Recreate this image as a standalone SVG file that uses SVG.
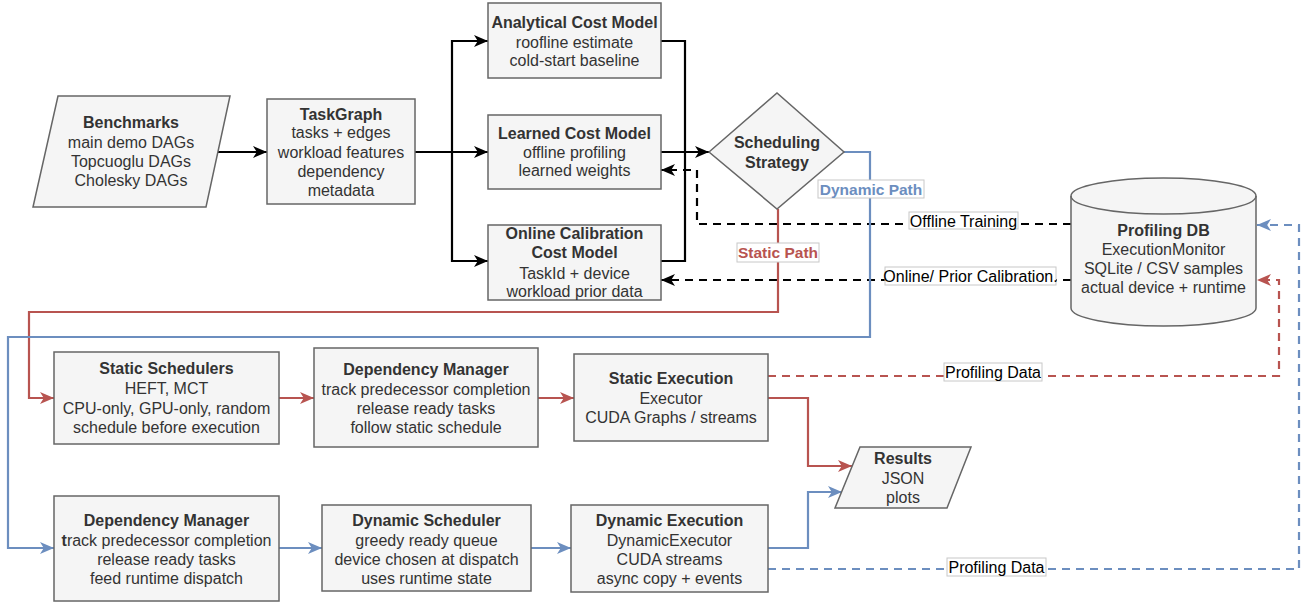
<svg xmlns="http://www.w3.org/2000/svg" width="1309" height="603" viewBox="0 0 1309 603">
<style>
.node{fill:#f5f5f5;stroke:#666;stroke-width:1.5}
.t{font-family:"Liberation Sans",Arial,sans-serif;fill:#333;text-anchor:middle}
.b{font-weight:bold}
.s16{font-size:16px}
.e{fill:none;stroke-width:2.2}
.k{stroke:#000}
.r{stroke:#b85450}
.bl{stroke:#6c8ebf}
.d{stroke-dasharray:8 6}
.lb{fill:#fff;stroke:#c8c8c8;stroke-width:1}
.lt{font-family:"Liberation Sans",Arial,sans-serif;font-size:16px;fill:#000;text-anchor:middle}
</style>
<defs>
<marker id="ak" markerUnits="userSpaceOnUse" markerWidth="15" markerHeight="13" refX="14" refY="6" orient="auto"><path d="M0,0 L14,6 L0,12 L3.8,6 Z" fill="#000"/></marker>
<marker id="ar" markerUnits="userSpaceOnUse" markerWidth="15" markerHeight="13" refX="14" refY="6" orient="auto"><path d="M0,0 L14,6 L0,12 L3.8,6 Z" fill="#b85450"/></marker>
<marker id="ab" markerUnits="userSpaceOnUse" markerWidth="15" markerHeight="13" refX="14" refY="6" orient="auto"><path d="M0,0 L14,6 L0,12 L3.8,6 Z" fill="#6c8ebf"/></marker>
</defs>

<g id="connectors">
  <path class="e k" d="M218,152 H267" marker-end="url(#ak)"/>
  <path class="e k" d="M415,152 H488" marker-end="url(#ak)"/>
  <path class="e k" d="M452,152 V41 H488" marker-end="url(#ak)"/>
  <path class="e k" d="M452,152 V261 H488" marker-end="url(#ak)"/>
  <path class="e k" d="M661,41 H685 V261 H661"/>
  <path class="e k" d="M661,152 H709" marker-end="url(#ak)"/>
  <path class="e k d" d="M1071,224 H697 V170 H661" marker-end="url(#ak)"/>
  <path class="e k d" d="M1071,280 H661" marker-end="url(#ak)"/>
  <path class="e r" d="M778,209 V312 H29 V398 H54" marker-end="url(#ar)"/>
  <path class="e bl" d="M844,152 H870 V337 H8 V548 H54" marker-end="url(#ab)"/>
  <path class="e r" d="M279,398 H314" marker-end="url(#ar)"/>
  <path class="e r" d="M538,398 H574" marker-end="url(#ar)"/>
  <path class="e r" d="M768,398 H808 V466 H852" marker-end="url(#ar)"/>
  <path class="e bl" d="M279,548 H322" marker-end="url(#ab)"/>
  <path class="e bl" d="M531,548 H571" marker-end="url(#ab)"/>
  <path class="e bl" d="M768,548 H808 V492 H842" marker-end="url(#ab)"/>
  <path class="e r d" d="M768,376 H1279 V280 H1257" marker-end="url(#ar)"/>
  <path class="e bl d" d="M768,569 H1299 V225 H1257" marker-end="url(#ab)"/>
  <rect class="lb" x="818" y="180" width="106" height="18"/>
  <text class="t b" x="871" y="194.5" style="font-size:15.5px;fill:#6c8ebf">Dynamic Path</text>
  <rect class="lb" x="737" y="243" width="82" height="19"/>
  <text class="t b" x="778" y="258" style="font-size:15.5px;fill:#b85450">Static Path</text>
  <rect class="lb" x="909" y="212" width="109" height="17"/>
  <text class="lt" x="963.5" y="226.5">Offline Training</text>
  <rect class="lb" x="885" y="267" width="171" height="18"/>
  <text class="lt" x="970.5" y="282">Online/ Prior Calibration.</text>
  <rect class="lb" x="944" y="363" width="98" height="18"/>
  <text class="lt" x="993" y="378">Profiling Data</text>
  <rect class="lb" x="947" y="558" width="99" height="18"/>
  <text class="lt" x="996.5" y="573">Profiling Data</text>
</g>

<g id="benchmarks">
  <polygon class="node" points="58,96 230,96 206,207 33,207"/>
  <text class="t s16" x="131"><tspan class="b" x="131" y="128">Benchmarks</tspan><tspan x="131" y="148">main demo DAGs</tspan><tspan x="131" y="167">Topcuoglu DAGs</tspan><tspan x="131" y="186">Cholesky DAGs</tspan></text>
</g>
<g id="taskgraph">
  <rect class="node" x="267" y="99" width="148" height="105"/>
  <text class="t s16"><tspan class="b" x="341" y="120">TaskGraph</tspan><tspan x="341" y="138">tasks + edges</tspan><tspan x="341" y="157.5">workload features</tspan><tspan x="341" y="177">dependency</tspan><tspan x="341" y="196">metadata</tspan></text>
</g>
<g id="analytical">
  <rect class="node" x="488" y="3" width="173" height="75"/>
  <text class="t s16"><tspan class="b" x="574.5" y="27.5">Analytical Cost Model</tspan><tspan x="574.5" y="47.5">roofline estimate</tspan><tspan x="574.5" y="66">cold-start baseline</tspan></text>
</g>
<g id="learned">
  <rect class="node" x="488" y="115" width="173" height="74"/>
  <text class="t s16"><tspan class="b" x="574.5" y="138.5">Learned Cost Model</tspan><tspan x="574.5" y="157.5">offline profiling</tspan><tspan x="574.5" y="176">learned weights</tspan></text>
</g>
<g id="online">
  <rect class="node" x="488" y="225" width="173" height="75"/>
  <text class="t s16"><tspan class="b" x="574.5" y="239">Online Calibration</tspan><tspan class="b" x="574.5" y="258">Cost Model</tspan><tspan x="574.5" y="278.5">TaskId + device</tspan><tspan x="574.5" y="297">workload prior data</tspan></text>
</g>
<g id="strategy">
  <polygon class="node" points="709,152 777,93 844,152 777,209"/>
  <text class="t b s16"><tspan x="777" y="147.5">Scheduling</tspan><tspan x="777" y="167.5">Strategy</tspan></text>
</g>
<g id="profilingdb">
  <path class="node" d="M1071,196 A92.5,18 0 0 1 1256,196 V308 A92.5,18 0 0 1 1071,308 Z"/>
  <path d="M1071,196 A92.5,18 0 0 0 1256,196" fill="none" stroke="#666" stroke-width="1.5"/>
  <text class="t s16"><tspan class="b" x="1163.5" y="236">Profiling DB</tspan><tspan x="1163.5" y="255">ExecutionMonitor</tspan><tspan x="1163.5" y="274">SQLite / CSV samples</tspan><tspan x="1163.5" y="293">actual device + runtime</tspan></text>
</g>
<g id="static-schedulers">
  <rect class="node" x="54" y="352" width="225" height="92"/>
  <text class="t s16"><tspan class="b" x="166.5" y="374">Static Schedulers</tspan><tspan x="166.5" y="394">HEFT, MCT</tspan><tspan x="166.5" y="413.5">CPU-only, GPU-only, random</tspan><tspan x="166.5" y="432.5">schedule before execution</tspan></text>
</g>
<g id="static-depmgr">
  <rect class="node" x="314" y="348" width="224" height="99"/>
  <text class="t s16"><tspan class="b" x="426" y="375">Dependency Manager</tspan><tspan x="426" y="395">track predecessor completion</tspan><tspan x="426" y="414">release ready tasks</tspan><tspan x="426" y="433">follow static schedule</tspan></text>
</g>
<g id="static-exec">
  <rect class="node" x="574" y="354" width="194" height="87"/>
  <text class="t s16"><tspan class="b" x="671" y="384">Static Execution</tspan><tspan x="671" y="404">Executor</tspan><tspan x="671" y="422.5">CUDA Graphs / streams</tspan></text>
</g>
<g id="results">
  <polygon class="node" points="860,447 971,447 947,508 835,508"/>
  <text class="t s16"><tspan class="b" x="903" y="464">Results</tspan><tspan x="903" y="484">JSON</tspan><tspan x="903" y="503">plots</tspan></text>
</g>
<g id="dynamic-depmgr">
  <rect class="node" x="54" y="496" width="225" height="105"/>
  <text class="t s16"><tspan class="b" x="166.5" y="526">Dependency Manager</tspan><tspan x="166.5" y="546"><tspan class="b">t</tspan>rack predecessor completion</tspan><tspan x="166.5" y="565">release ready tasks</tspan><tspan x="166.5" y="584">feed runtime dispatch</tspan></text>
</g>
<g id="dynamic-scheduler">
  <rect class="node" x="322" y="505" width="209" height="86"/>
  <text class="t s16"><tspan class="b" x="426.5" y="526">Dynamic Scheduler</tspan><tspan x="426.5" y="546">greedy ready queue</tspan><tspan x="426.5" y="565">device chosen at dispatch</tspan><tspan x="426.5" y="584">uses runtime state</tspan></text>
</g>
<g id="dynamic-exec">
  <rect class="node" x="571" y="505" width="197" height="87"/>
  <text class="t s16"><tspan class="b" x="669.5" y="526">Dynamic Execution</tspan><tspan x="669.5" y="546">DynamicExecutor</tspan><tspan x="669.5" y="565">CUDA streams</tspan><tspan x="669.5" y="584">async copy + events</tspan></text>
</g>
</svg>
